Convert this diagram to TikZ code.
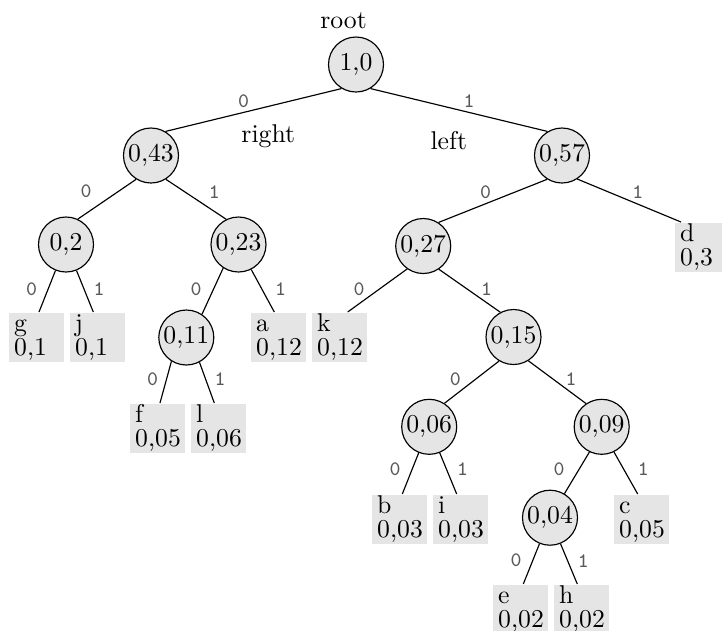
\documentclass[tikz,border=0pt]{standalone}
\usetikzlibrary{calc}
\tikzset{
  inner/.style={circle, draw, line width=0.45pt, fill=black!10,
    minimum size=21.4pt, inner sep=0pt},
  leaf/.style={rectangle, fill=black!10, anchor=north west, text width=17pt,
    align=left, minimum height=19.06pt, inner xsep=2.2pt, inner ysep=0pt},
  bit/.style={font=\footnotesize\ttfamily, text=black!65, inner sep=0pt},
  edge/.style={line width=0.45pt},
  caption/.style={anchor=base, inner sep=0pt}
}
% symbol on the first line, probability on the second
\newcommand{\symprob}[2]{\rule{0pt}{7pt}#1\\[-2.7pt]#2}

\begin{document}
\begin{tikzpicture}[x=0.3891pt, y=-0.3891pt]
\useasboundingbox (0,0) rectangle (722,630);

% inner nodes
\node[inner] (n10)  at (356,64.5)  {1,0};
\node[inner] (n043) at (151,155.5) {0,43};
\node[inner] (n057) at (562,155.5) {0,57};
\node[inner] (n02)  at (66,244.5)  {0,2};
\node[inner] (n023) at (238.5,244.5) {0,23};
\node[inner] (n011) at (186.3,337.5) {0,11};
\node[inner] (n027) at (423.2,246) {0,27};
\node[inner] (n015) at (513.5,337) {0,15};
\node[inner] (n006) at (429.2,426.8) {0,06};
\node[inner] (n009) at (601.7,426.8) {0,09};
\node[inner] (n004) at (550,517.7) {0,04};

% leaves
\node[leaf] (lg) at (8,312)   {\symprob{g}{0,1}};
\node[leaf] (lj) at (69,312)  {\symprob{j}{0,1}};
\node[leaf] (la) at (250,312) {\symprob{a}{0,12}};
\node[leaf] (lf) at (129,403) {\symprob{f}{0,05}};
\node[leaf] (ll) at (190,403) {\symprob{l}{0,06}};
\node[leaf] (lk) at (311,312) {\symprob{k}{0,12}};
\node[leaf] (ld) at (674,222) {\symprob{d}{0,3}};
\node[leaf] (lb) at (371,494) {\symprob{b}{0,03}};
\node[leaf] (li) at (432,494) {\symprob{i}{0,03}};
\node[leaf] (lc) at (613,494) {\symprob{c}{0,05}};
\node[leaf] (le) at (492,584) {\symprob{e}{0,02}};
\node[leaf] (lh) at (553,584) {\symprob{h}{0,02}};

% captions
\node[caption] (troot)  at (343.5,28.3) {root};
\node[caption] (tright) at (268.3,142.7) {right};
\node[caption] (tleft)  at (448.8,149) {left};

% connectors between inner nodes
\draw[edge] (n10.239)  -- (n043.59);
\draw[edge] (n10.301)  -- (n057.121);
\draw[edge] (n043.238) -- (n02.65);
\draw[edge] (n043.302) -- (n023.116);
\draw[edge] (n023.237) -- (n011.56);
\draw[edge] (n057.238) -- (n027.57);
\draw[edge] (n027.304) -- (n015.118);
\draw[edge] (n015.239) -- (n006.57);
\draw[edge] (n015.302) -- (n009.124);
\draw[edge] (n009.244) -- (n004.59);

% connectors to leaves
\draw[edge] (n057.303) -- ($(ld.north west)+(7,0)$);
\draw[edge] (n02.248)  -- ($(lg.north west)+(31,0)$);
\draw[edge] (n02.292)  -- ($(lj.north west)+(24.3,0)$);
\draw[edge] (n023.297) -- ($(la.north west)+(24.3,0)$);
\draw[edge] (n011.238) -- ($(lf.north west)+(31,0)$);
\draw[edge] (n011.298) -- ($(ll.north west)+(24.3,0)$);
\draw[edge] (n027.235) -- ($(lk.north west)+(36.7,0)$);
\draw[edge] (n006.248) -- ($(lb.north west)+(31.3,0)$);
\draw[edge] (n006.292) -- ($(li.north west)+(24.7,0)$);
\draw[edge] (n009.296) -- ($(lc.north west)+(24.7,0)$);
\draw[edge] (n004.248) -- ($(le.north west)+(31.3,0)$);
\draw[edge] (n004.292) -- ($(lh.north west)+(24.3,0)$);

% branch bits
\node[bit] (b1)  at (243.7,101)   {0};
\node[bit] (b2)  at (469,100.7)   {1};
\node[bit] (b3)  at (86,191.7)    {0};
\node[bit] (b4)  at (214.3,191.7) {1};
\node[bit] (b5)  at (31.7,289.3)  {0};
\node[bit] (b6)  at (99,289.3)    {1};
\node[bit] (b7)  at (196,289.3)   {0};
\node[bit] (b8)  at (280.7,289.3) {1};
\node[bit] (b9)  at (152.7,379.3) {0};
\node[bit] (b10) at (220,379.3)   {1};
\node[bit] (b11) at (485.7,192.3) {0};
\node[bit] (b12) at (637.7,192.3) {1};
\node[bit] (b13) at (359,289)     {0};
\node[bit] (b14) at (486.7,289)   {1};
\node[bit] (b15) at (455.3,379)   {0};
\node[bit] (b16) at (571,379)     {1};
\node[bit] (b17) at (395,469.3)   {0};
\node[bit] (b18) at (462.7,469.3) {1};
\node[bit] (b19) at (559,469.3)   {0};
\node[bit] (b20) at (643.3,469.3) {1};
\node[bit] (b21) at (516,560.7)   {0};
\node[bit] (b22) at (583.3,560.7) {1};
\end{tikzpicture}
\end{document}
